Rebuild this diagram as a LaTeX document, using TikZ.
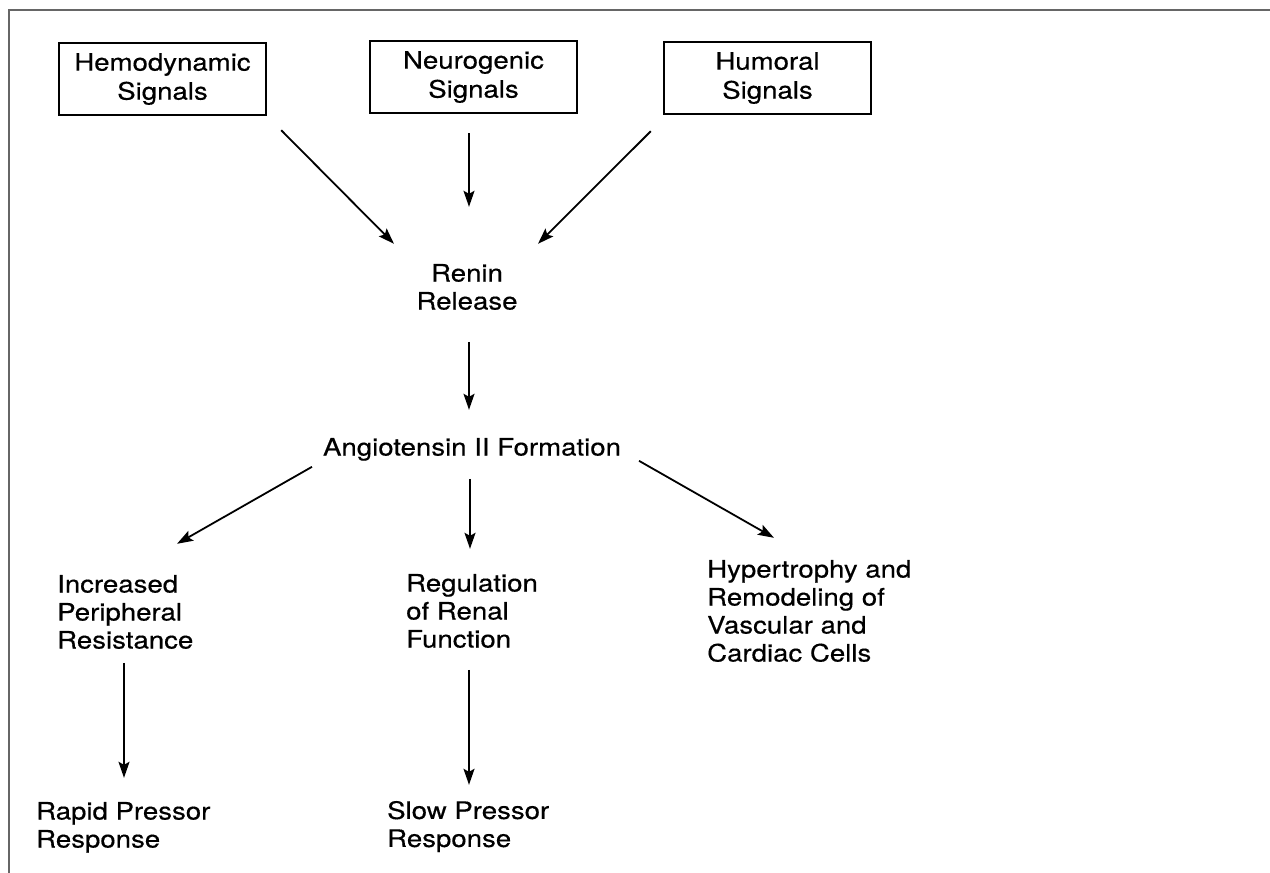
\documentclass[tikz,border=0pt]{standalone}
\usepackage{fontspec}
\setmainfont{TeX Gyre Heros}[FakeStretch=1.15,FakeBold=0.4]
\usetikzlibrary{arrows.meta,calc}

\begin{document}
\begin{tikzpicture}[x=1pt,y=-1pt,
  txt/.style={inner sep=0pt, font=\fontsize{24}{28}\selectfont},
  sigbox/.style={draw, line width=2.4pt, minimum width=207pt, minimum height=72pt,
    inner sep=0pt, align=center, font=\fontsize{24}{29}\selectfont},
  arr/.style={line width=1.8pt, -{Stealth[length=16pt,width=11pt,inset=3pt]}},
  frameline/.style={line width=2.2pt, draw=black!60}]
\useasboundingbox (0,0) rectangle (1270,873);

% outer frame (top and left edges)
\draw[frameline] (9,873) -- (9,10) -- (1270,10);

% signal boxes
\node[sigbox] (hemo)    at (162.5,79) {Hemodynamic\\Signals};
\node[sigbox] (neuro)   at (473.5,77) {Neurogenic\\Signals};
\node[sigbox] (humoral) at (767.5,78) {Humoral\\Signals};

% text nodes, placed by the top of their first line
\node[txt, align=center, anchor=north]      (renin) at (467,263.8) {Renin\\Release};
\node[txt, anchor=north]                    (angio) at (472,437.8) {Angiotensin II Formation};
\node[txt, align=left, anchor=north west]   (incr)  at (57,574.8)  {Increased\\Peripheral\\Resistance};
\node[txt, align=left, anchor=north west]   (regul) at (406,573.8) {Regulation\\of Renal\\Function};
\node[txt, align=left, anchor=north west]   (hyper) at (707,559.8) {Hypertrophy and\\Remodeling of\\Vascular and\\Cardiac Cells};
\node[txt, align=left, anchor=north west]   (rapid) at (36,801.8)  {Rapid Pressor\\Response};
\node[txt, align=left, anchor=north west]   (slow)  at (387,800.8) {Slow Pressor\\Response};

% connectors
\draw[arr] ($(hemo.south east)+(14,14)$)    -- ($(renin.north)+(-73,-20)$);
\draw[arr] ($(neuro.south)+(-4.5,19)$)      -- ($(renin.north)+(2,-57)$);
\draw[arr] ($(humoral.south west)+(-12,16)$) -- ($(renin.north)+(71,-20)$);
\draw[arr] ($(renin.north)+(2,78)$)         -- ($(angio.north)+(-3,-28)$);
\draw[arr] ($(angio.north)+(-160,29)$)      -- ($(incr.north west)+(120,-31)$);
\draw[arr] ($(angio.north)+(-2,41)$)        -- ($(regul.north west)+(64,-25)$);
\draw[arr] ($(angio.north)+(167,23)$)       -- ($(hyper.north west)+(67,-22)$);
\draw[arr] ($(incr.north west)+(67,88)$)    -- ($(rapid.north west)+(88,-24)$);
\draw[arr] ($(regul.north west)+(63,96)$)   -- ($(slow.north west)+(82,-16)$);
\end{tikzpicture}
\end{document}
